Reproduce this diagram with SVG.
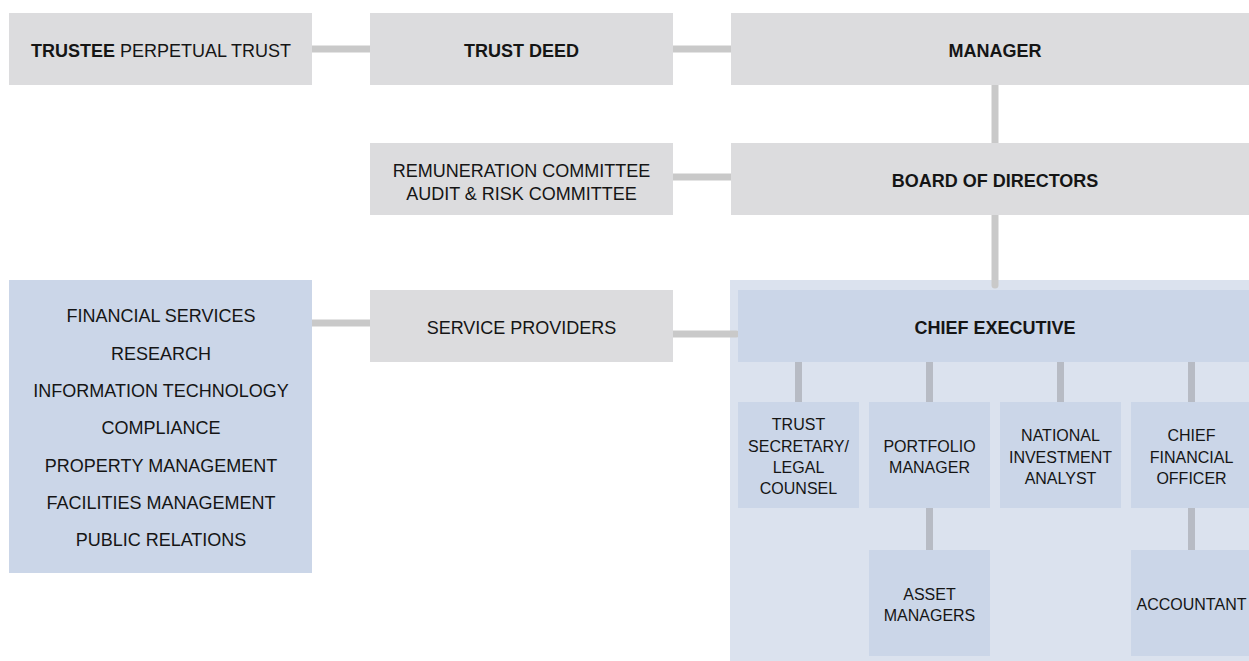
<svg xmlns="http://www.w3.org/2000/svg" width="1249" height="661" viewBox="0 0 1249 661">
<style>
text{font-family:"Liberation Sans",Arial,sans-serif;fill:#151515;text-anchor:middle}
.m{font-size:18px}
.s{font-size:16px}
.b{font-weight:bold}
.g{fill:#dcdcde}
.bl{fill:#cbd6e8}
.lt{fill:#dbe2ee}
.c{stroke:#c9c9c9;stroke-width:7;stroke-linecap:round;fill:none}
.ci{stroke:#b7bbc4;stroke-width:7;stroke-linecap:round;fill:none}
</style>
<rect width="1249" height="661" fill="#ffffff"/>
<g id="exec-area"><rect class="lt" x="730" y="280" width="530" height="390"/></g>
<g id="connectors">
<line class="c" x1="309" y1="49" x2="376" y2="49"/>
<line class="c" x1="669" y1="49" x2="736" y2="49"/>
<line class="c" x1="995" y1="83" x2="995" y2="148"/>
<line class="c" x1="669" y1="177" x2="736" y2="177"/>
<line class="c" x1="995" y1="212" x2="995" y2="285"/>
<line class="c" x1="309" y1="323" x2="376" y2="323"/>
<line class="c" x1="669" y1="334" x2="736" y2="334"/>
<line class="ci" x1="798.5" y1="360" x2="798.5" y2="407"/>
<line class="ci" x1="929.5" y1="360" x2="929.5" y2="407"/>
<line class="ci" x1="1060.5" y1="360" x2="1060.5" y2="407"/>
<line class="ci" x1="1191.5" y1="360" x2="1191.5" y2="407"/>
<line class="ci" x1="929.5" y1="504" x2="929.5" y2="551"/>
<line class="ci" x1="1191.5" y1="504" x2="1191.5" y2="551"/>
</g>
<g id="trustee"><rect class="g" x="9" y="13" width="303" height="72"/><text class="m" x="161" y="57"><tspan class="b">TRUSTEE</tspan> PERPETUAL TRUST</text></g>
<g id="trust-deed"><rect class="g" x="370" y="13" width="303" height="72"/><text class="m b" x="521.5" y="57">TRUST DEED</text></g>
<g id="manager"><rect class="g" x="731" y="13" width="530" height="72"/><text class="m b" x="995" y="57">MANAGER</text></g>
<g id="committees"><rect class="g" x="370" y="143" width="303" height="72"/><text class="m" x="521.5" y="177">REMUNERATION COMMITTEE</text><text class="m" x="521.5" y="200">AUDIT &amp; RISK COMMITTEE</text></g>
<g id="board"><rect class="g" x="731" y="143" width="530" height="72"/><text class="m b" x="995" y="187">BOARD OF DIRECTORS</text></g>
<g id="services-list"><rect class="bl" x="9" y="280" width="303" height="293"/>
<text class="m" x="161" y="322">FINANCIAL SERVICES</text>
<text class="m" x="161" y="360">RESEARCH</text>
<text class="m" x="161" y="397">INFORMATION TECHNOLOGY</text>
<text class="m" x="161" y="434">COMPLIANCE</text>
<text class="m" x="161" y="472">PROPERTY MANAGEMENT</text>
<text class="m" x="161" y="509">FACILITIES MANAGEMENT</text>
<text class="m" x="161" y="546">PUBLIC RELATIONS</text></g>
<g id="service-providers"><rect class="g" x="370" y="290" width="303" height="72"/><text class="m" x="521.5" y="334">SERVICE PROVIDERS</text></g>
<g id="chief-executive"><rect class="bl" x="738" y="290" width="520" height="72"/><text class="m b" x="995" y="334">CHIEF EXECUTIVE</text></g>
<g id="trust-secretary"><rect class="bl" x="738" y="402" width="121" height="106"/><text class="s" x="798.5" y="430">TRUST</text><text class="s" x="798.5" y="451.5">SECRETARY/</text><text class="s" x="798.5" y="473">LEGAL</text><text class="s" x="798.5" y="494">COUNSEL</text></g>
<g id="portfolio-manager"><rect class="bl" x="869" y="402" width="121" height="106"/><text class="s" x="929.5" y="451.5">PORTFOLIO</text><text class="s" x="929.5" y="473">MANAGER</text></g>
<g id="investment-analyst"><rect class="bl" x="1000" y="402" width="121" height="106"/><text class="s" x="1060.5" y="441">NATIONAL</text><text class="s" x="1060.5" y="462.5">INVESTMENT</text><text class="s" x="1060.5" y="484">ANALYST</text></g>
<g id="cfo"><rect class="bl" x="1131" y="402" width="121" height="106"/><text class="s" x="1191.5" y="441">CHIEF</text><text class="s" x="1191.5" y="462.5">FINANCIAL</text><text class="s" x="1191.5" y="484">OFFICER</text></g>
<g id="asset-managers"><rect class="bl" x="869" y="550" width="121" height="106"/><text class="s" x="929.5" y="600">ASSET</text><text class="s" x="929.5" y="621">MANAGERS</text></g>
<g id="accountant"><rect class="bl" x="1131" y="550" width="121" height="106"/><text class="s" x="1191.5" y="610">ACCOUNTANT</text></g>
</svg>
